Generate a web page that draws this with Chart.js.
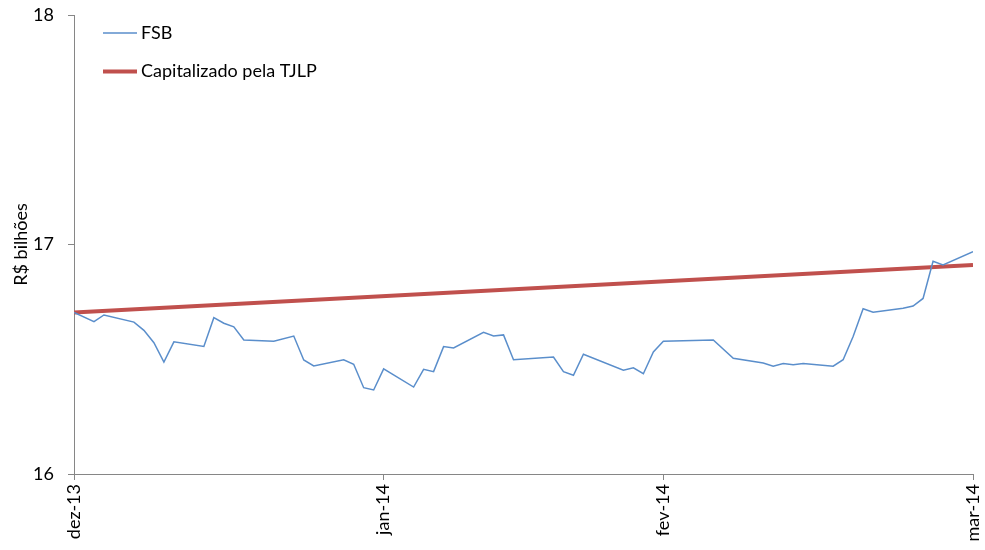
<!DOCTYPE html>
<html>
<head>
<meta charset="utf-8">
<script src="https://cdn.jsdelivr.net/npm/chart.js@4/dist/chart.umd.min.js"></script>
<style>
  body { margin: 0; background: #fff; }
</style>
</head>
<body>
<canvas id="myChart" width="985" height="550"></canvas>
<script>
var fsbDates = ['2013-12-03', '2013-12-05', '2013-12-06', '2013-12-09', '2013-12-10', '2013-12-11',
    '2013-12-12', '2013-12-13', '2013-12-16', '2013-12-17', '2013-12-18', '2013-12-19', '2013-12-20',
    '2013-12-23', '2013-12-25', '2013-12-26', '2013-12-27', '2013-12-30', '2013-12-31', '2014-01-01',
    '2014-01-02', '2014-01-03', '2014-01-06', '2014-01-07', '2014-01-08', '2014-01-09', '2014-01-10',
    '2014-01-13', '2014-01-14', '2014-01-15', '2014-01-16', '2014-01-20', '2014-01-21', '2014-01-22',
    '2014-01-23', '2014-01-27', '2014-01-28', '2014-01-29', '2014-01-30', '2014-01-31', '2014-02-05',
    '2014-02-07', '2014-02-10', '2014-02-11', '2014-02-12', '2014-02-13', '2014-02-14', '2014-02-17',
    '2014-02-18', '2014-02-19', '2014-02-20', '2014-02-21', '2014-02-24', '2014-02-25', '2014-02-26',
    '2014-02-27', '2014-02-28', '2014-03-03'];
var fsb = [16.704, 16.664, 16.693, 16.662, 16.626, 16.572,
    16.488, 16.576, 16.556, 16.681, 16.657, 16.641, 16.584,
    16.578, 16.601, 16.497, 16.471, 16.498, 16.478, 16.376,
    16.366, 16.458, 16.379, 16.456, 16.446, 16.555, 16.549,
    16.617, 16.601, 16.606, 16.498, 16.510, 16.446, 16.430,
    16.522, 16.452, 16.463, 16.437, 16.532, 16.578, 16.584,
    16.504, 16.484, 16.470, 16.481, 16.476, 16.481, 16.470,
    16.498, 16.599, 16.720, 16.705, 16.722, 16.732, 16.765,
    16.927, 16.911, 16.969];

var tjlpDates = ['2013-12-03', '2014-03-03'];
var tjlp = [16.704, 16.911];

var tickDates = ['2013-12-03', '2014-01-03', '2014-01-31', '2014-03-03'];
var tickLabels = ['dez-13', 'jan-14', 'fev-14', 'mar-14'];

var yTicks = [16, 17, 18];

var FONT = 'Lato, "Open Sans", sans-serif';
var AXIS = '#868686';

function dayNum(s) {
    return (Date.parse(s) - Date.parse('2013-12-01')) / 86400000;
}

function toPoints(dates, vals) {
    return dates.map(function (d, i) { return { x: dayNum(d), y: vals[i] }; });
}

// legend drawn inside the plot, top left, like the original
var legendInside = {
    id: 'legendInside',
    afterDraw: function (chart) {
        var ctx = chart.ctx;
        chart.data.datasets.forEach(function (ds, i) {
            var y = 33 + i * 38.5;
            ctx.save();
            ctx.strokeStyle = ds.borderColor;
            ctx.lineWidth = ds.borderWidth;
            ctx.beginPath();
            ctx.moveTo(103, y);
            ctx.lineTo(137, y);
            ctx.stroke();
            ctx.fillStyle = '#000';
            ctx.font = '18px ' + FONT;
            ctx.textBaseline = 'middle';
            ctx.fillText(ds.label, 141, y);
            ctx.restore();
        });
    }
};

var ctx = document.getElementById('myChart').getContext('2d');
var chart = new Chart(ctx, {
    type: 'line',
    data: {
        datasets: [{
            label: 'FSB',
            data: toPoints(fsbDates, fsb),
            borderColor: '#5A8ECB',
            borderWidth: 1.5,
            pointRadius: 0,
            tension: 0
        }, {
            label: 'Capitalizado pela TJLP',
            data: toPoints(tjlpDates, tjlp),
            borderColor: '#C0504D',
            borderWidth: 4,
            pointRadius: 0,
            tension: 0
        }]
    },
    options: {
        responsive: false,
        animation: false,
        layout: { padding: { left: 0, right: 12, top: 15, bottom: 4 } },
        plugins: {
            legend: { display: false },
            tooltip: { enabled: false }
        },
        scales: {
            x: {
                type: 'linear',
                min: dayNum(tickDates[0]),
                max: dayNum(tickDates[3]),
                afterBuildTicks: function (axis) {
                    axis.ticks = tickDates.map(function (d) { return { value: dayNum(d) }; });
                },
                afterFit: function (axis) {
                    axis.height = 72;
                    axis.paddingLeft = 0;
                    axis.paddingRight = 0;
                },
                ticks: {
                    autoSkip: false,
                    minRotation: 90,
                    maxRotation: 90,
                    padding: 4,
                    color: '#000',
                    font: { family: FONT, size: 18 },
                    callback: function (v) {
                        var i = tickDates.map(dayNum).indexOf(v);
                        return i >= 0 ? tickLabels[i] : '';
                    }
                },
                grid: { drawOnChartArea: false, tickLength: 6, color: AXIS },
                border: { color: AXIS, width: 1 }
            },
            y: {
                min: 16,
                max: 18,
                afterBuildTicks: function (axis) {
                    axis.ticks = yTicks.map(function (v) { return { value: v }; });
                },
                afterFit: function (axis) {
                    axis.width = 74;
                    axis.paddingTop = 0;
                    axis.paddingBottom = 0;
                },
                ticks: {
                    padding: 14,
                    color: '#000',
                    font: { family: FONT, size: 18 }
                },
                title: {
                    display: true,
                    text: 'R$ bilhões',
                    color: '#000',
                    font: { family: FONT, size: 18 },
                    padding: { top: 10, bottom: 0 }
                },
                grid: { drawOnChartArea: false, tickLength: 6, color: AXIS },
                border: { color: AXIS, width: 1 }
            }
        }
    },
    plugins: [legendInside]
});
</script>
</body>
</html>
